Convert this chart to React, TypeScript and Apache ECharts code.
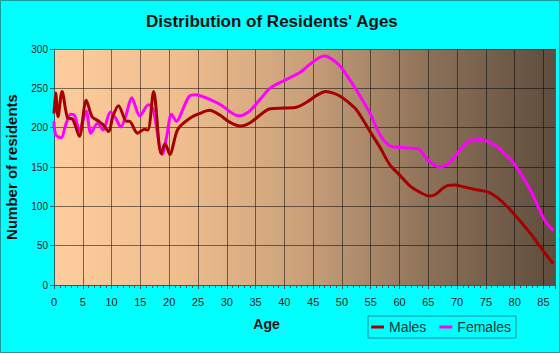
import React, { useEffect, useRef } from "react";
import * as echarts from "echarts";

const title = "Distribution of Residents' Ages";
const xName = "Age";
const yName = "Number of residents";
const seriesNames = ["Males", "Females"];

const maleAges = [0, 0.3, 0.7, 1.4, 2.4, 3.2, 4.4, 5.6, 6.6, 7.6, 8.5, 9.5, 10.2, 11.2, 12.6, 13.1, 14.5, 15.7, 16.3, 17.3, 18.6, 19.3, 20.1, 21.5, 23.6, 25.3, 27, 28.8, 30.5, 32.3, 34, 35.8, 37.5, 40, 42.1, 44, 45.6, 47.2, 48.5, 49.7, 51, 52.5, 54.9, 56.6, 58.3, 60, 61.8, 63.5, 65.3, 66.2, 68.2, 69.7, 71, 72.8, 75.4, 77.5, 79.8, 82.7, 85, 86.7];
const maleValues = [218, 244, 214, 246, 212, 211, 189, 235, 214, 209, 204, 195, 214, 228, 208, 208, 193, 198, 197, 246, 167, 180, 166, 198, 212, 218, 222, 216, 207, 202, 206, 216, 224, 225, 226, 233, 241, 246, 244, 240, 233, 223, 195, 175, 153, 140, 126, 118, 113, 115, 126, 127, 125, 122, 118, 108, 91, 66, 43, 27];

const femaleAges = [0, 0.3, 1.25, 2, 2.9, 3.6, 4.4, 5.6, 6.4, 7.6, 8.5, 9.8, 10.7, 11.6, 12.5, 13.5, 14.9, 16.4, 17.2, 18.8, 19.6, 20.4, 21.3, 22.3, 23.5, 24.7, 26, 27.6, 29.2, 30.6, 32.1, 33.8, 35.8, 37.5, 40, 42.7, 44.5, 46.9, 48.3, 49.7, 51, 52.5, 54.9, 56.6, 58.3, 60, 61.8, 63.3, 65, 67, 68.5, 69.4, 70.5, 72.3, 74, 75.5, 76.9, 79.8, 82.7, 85, 86.7];
const femaleValues = [208, 191, 187, 203, 217, 215, 196, 221, 193, 206, 197, 220, 212, 201, 216, 238, 215, 229, 224, 166, 190, 217, 208, 222, 240, 242, 239, 234, 228, 220, 215, 220, 236, 250, 260, 270, 281, 291, 287, 278, 265, 248, 218, 191, 177, 175, 174, 173, 158, 150, 154, 161, 172, 184, 185, 182, 176, 155, 121, 85, 69];

const FONT = "'Liberation Sans', Arial, sans-serif";

export default function App() {
  const ref = useRef<HTMLDivElement>(null);
  useEffect(() => {
    if (!ref.current) return;
    const chart = echarts.init(ref.current, null, { renderer: "svg" });
    const maleData = maleAges.map((a, i) => [a, maleValues[i]]);
    const femaleData = femaleAges.map((a, i) => [a, femaleValues[i]]);
    chart.setOption({
      animation: false,
      backgroundColor: "#00FFFF",
      textStyle: { fontFamily: FONT },
      title: {
        text: title,
        left: 146,
        top: 13,
        padding: 0,
        textStyle: { fontSize: 17, fontWeight: "bold", color: "#111", fontFamily: FONT },
      },
      graphic: [
        {
          type: "rect",
          shape: { x: 0.5, y: 0.5, width: 559, height: 352 },
          style: { fill: "none", stroke: "#1a9c9c", lineWidth: 1 },
          silent: true,
        },
      ],
      legend: {
        data: seriesNames,
        left: 368,
        top: 316,
        padding: [4, 5, 4, 3],
        itemWidth: 13,
        itemHeight: 3,
        itemGap: 13,
        icon: "rect",
        borderColor: "#1f8f8f",
        borderWidth: 1,
        textStyle: { fontSize: 14, color: "#113333", fontFamily: FONT },
      },
      grid: {
        left: 54,
        right: 5,
        top: 49,
        bottom: 68,
        show: true,
        borderWidth: 0,
        containLabel: false,
        outerBoundsMode: "none",
        backgroundColor: new echarts.graphic.LinearGradient(0, 0, 1, 0, [
          { offset: 0, color: "#FDCD9D" },
          { offset: 0.25, color: "#F0BE8E" },
          { offset: 0.5, color: "#C9A07A" },
          { offset: 0.75, color: "#8C7159" },
          { offset: 1, color: "#5E4D3D" },
        ]),
      },
      xAxis: {
        type: "value",
        min: 0,
        max: 87,
        interval: 5,
        name: xName,
        nameLocation: "middle",
        nameGap: 32,
        nameMoveOverlap: false,
        nameTextStyle: { fontSize: 14, fontWeight: "bold", color: "#111", padding: [0, 76, 0, 0] },
        axisLine: { show: true, lineStyle: { color: "#2f5f5f", width: 1 } },
        axisTick: { show: true, length: 4, lineStyle: { color: "#2f5f5f" } },
        minorTick: { show: true, splitNumber: 5, length: 3, lineStyle: { color: "#2f5f5f" } },
        axisLabel: { fontSize: 11, color: "#1a1a1a", margin: 11, showMaxLabel: false },
        splitLine: { show: true, lineStyle: { color: "rgba(0,0,0,0.5)", width: 1 } },
      },
      yAxis: {
        type: "value",
        min: 0,
        max: 300,
        interval: 50,
        name: yName,
        nameLocation: "middle",
        nameGap: 35,
        nameMoveOverlap: false,
        nameTextStyle: { fontSize: 15, fontWeight: "bold", color: "#111" },
        axisLine: { show: true, lineStyle: { color: "#2f5f5f", width: 1 } },
        axisTick: { show: true, length: 4, lineStyle: { color: "#2f5f5f" } },
        axisLabel: { fontSize: 10, color: "#1a1a1a", margin: 6 },
        splitLine: { show: true, lineStyle: { color: "rgba(0,0,0,0.5)", width: 1 } },
      },
      series: [
        {
          name: seriesNames[0],
          type: "line",
          data: maleData,
          smooth: 0.3,
          symbol: "none",
          lineStyle: { color: "#A50000", width: 3 },
          itemStyle: { color: "#A50000" },
          z: 3,
        },
        {
          name: seriesNames[1],
          type: "line",
          data: femaleData,
          smooth: 0.3,
          symbol: "none",
          lineStyle: { color: "#FF00FF", width: 3 },
          itemStyle: { color: "#FF00FF" },
          z: 2,
        },
      ],
    });
    return () => chart.dispose();
  }, []);
  return (
    <div
      ref={ref}
      style={{ position: "absolute", left: 0, top: 0, width: 560, height: 353 }}
    />
  );
}
